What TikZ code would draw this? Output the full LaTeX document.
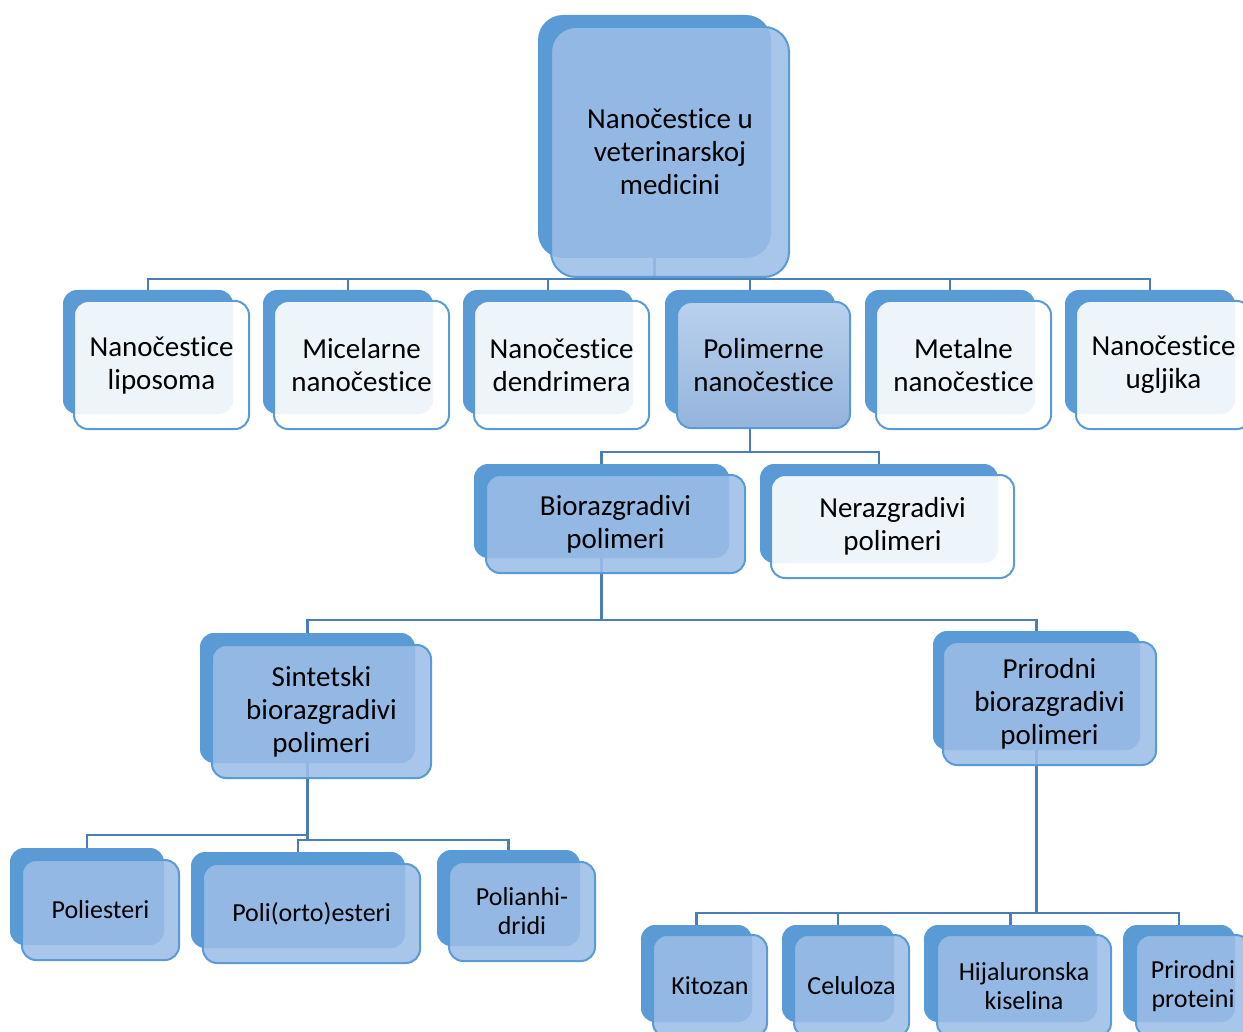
\documentclass[tikz,border=0pt]{standalone}
\usepackage{fontspec}
\setmainfont{Carlito}[Ligatures={NoCommon}]
\usepackage{tikz}

\definecolor{backblue}{HTML}{5B9BD5}
\definecolor{edgeblue}{HTML}{5B9BD5}
\definecolor{midblue}{HTML}{9CBDE7}
\definecolor{lineblue}{HTML}{4A7EBB}
\newcommand{\bigtxt}{\fontsize{29}{33}\selectfont}
\newcommand{\smalltxt}{\fontsize{26}{29}\selectfont}

\begin{document}
\begin{tikzpicture}[x=1pt,y=1pt,yscale=-1,
  backbox/.style={fill=backblue, rounded corners=14pt, inner sep=0pt, outer sep=0pt},
  litebox/.style={draw=edgeblue, line width=2pt, fill=white, fill opacity=0.9, text opacity=1,
    rounded corners=14pt, inner sep=0pt, outer sep=0pt, align=center, font=\bigtxt},
  midbox/.style={litebox, fill=midblue, fill opacity=0.88},
  gradbox/.style={litebox, top color=midblue!70!white, bottom color=midblue!95!black, fill opacity=1},
  conn/.style={draw=lineblue, line width=2.4pt}]
\useasboundingbox (0,0) rectangle (1243,1032);

%Back shapes
\node [backbox, minimum width=233, minimum height=243, rounded corners=25pt] (top) at (654.5,136.5) {};
\node [backbox, minimum width=170, minimum height=124] (lipo) at (148,352) {};
\node [backbox, minimum width=170, minimum height=124] (mice) at (348,352) {};
\node [backbox, minimum width=170, minimum height=124] (dend) at (548,352) {};
\node [backbox, minimum width=170, minimum height=124] (poli) at (750,352) {};
\node [backbox, minimum width=170, minimum height=124] (meta) at (950,352) {};
\node [backbox, minimum width=170, minimum height=124] (uglj) at (1150,352) {};
\node [backbox, minimum width=255, minimum height=94] (bio) at (601.5,511) {};
\node [backbox, minimum width=238, minimum height=99] (nera) at (879,513.5) {};
\node [backbox, minimum width=215, minimum height=130] (sint) at (307.5,698) {};
\node [backbox, minimum width=207, minimum height=119] (prir) at (1036.5,690.5) {};
\node [backbox, minimum width=154, minimum height=97] (pole) at (87,896.5) {};
\node [backbox, minimum width=214, minimum height=96] (orto) at (298,900) {};
\node [backbox, minimum width=143, minimum height=96] (anhi) at (508.5,898) {};
\node [backbox, minimum width=111, minimum height=97] (kito) at (696.5,973.5) {};
\node [backbox, minimum width=112, minimum height=97] (celu) at (838,973.5) {};
\node [backbox, minimum width=173, minimum height=97] (hija) at (1010.5,973.5) {};
\node [backbox, minimum width=112, minimum height=97] (prot) at (1179,973.5) {};

%Connectors
\coordinate (bus1) at (654.5,279);
\coordinate (bus2) at (750,452);
\coordinate (bus3) at (601.5,620);
\coordinate (bus4a) at (307.5,835);
\coordinate (bus4b) at (307.5,840);
\coordinate (bus5) at (1036.5,913);
\foreach \c in {lipo,mice,dend,poli,meta,uglj}
  \draw [conn] (top.south) -- (bus1) -| (\c.north);
\foreach \c in {bio,nera}
  \draw [conn] (poli.south) -- (bus2) -| (\c.north);
\foreach \c in {sint,prir}
  \draw [conn] (bio.south) -- (bus3) -| (\c.north);
\draw [conn] (sint.south) -- (bus4a) -| (pole.north);
\foreach \c in {orto,anhi}
  \draw [conn] (sint.south) -- (bus4b) -| (\c.north);
\foreach \c in {kito,celu,hija,prot}
  \draw [conn] (prir.south) -- (bus5) -| (\c.north);

%Front shapes with text
\node [midbox, minimum width=238, minimum height=250, rounded corners=25pt] (top-t) at (670,152) {Nanočestice u\\veterinarskoj\\medicini};
\node [litebox, minimum width=175, minimum height=128] (lipo-t) at (161.5,365) {Nanočestice\\liposoma};
\node [litebox, minimum width=175, minimum height=128] (mice-t) at (361.5,365) {Micelarne\\nanočestice};
\node [litebox, minimum width=175, minimum height=128] (dend-t) at (561.5,365) {Nanočestice\\dendrimera};
\node [gradbox, minimum width=173, minimum height=126] (poli-t) at (763.5,365) {Polimerne\\nanočestice};
\node [litebox, minimum width=175, minimum height=128] (meta-t) at (963.5,365) {Metalne\\nanočestice};
\node [litebox, minimum width=175, minimum height=128] (uglj-t) at (1163.5,365) {Nanočestice\\ugljika};
\node [midbox, minimum width=259, minimum height=98] (bio-t) at (615.5,524) {Biorazgradivi\\polimeri};
\node [litebox, minimum width=243, minimum height=103] (nera-t) at (892.5,526.5) {Nerazgradivi\\polimeri};
\node [midbox, minimum width=219, minimum height=133] (sint-t) at (321.5,711.5) {Sintetski\\biorazgradivi\\polimeri};
\node [midbox, minimum width=213, minimum height=123] (prir-t) at (1049.5,703.5) {Prirodni\\biorazgradivi\\polimeri};
\node [midbox, minimum width=157, minimum height=100, font=\smalltxt] (pole-t) at (100.5,910) {Poliesteri};
\node [midbox, minimum width=217, minimum height=99, font=\smalltxt] (orto-t) at (311.5,913.5) {Poli(orto)esteri};
\node [midbox, minimum width=146, minimum height=99, font=\smalltxt] (anhi-t) at (522,911.5) {Polianhi-\\dridi};
\node [midbox, minimum width=114, minimum height=102, font=\smalltxt] (kito-t) at (710,986) {Kitozan};
\node [midbox, minimum width=115, minimum height=102, font=\smalltxt] (celu-t) at (851.5,986) {Celuloza};
\node [midbox, minimum width=174, minimum height=102, font=\smalltxt] (hija-t) at (1024,986) {Hijaluronska\\kiselina};
\node [midbox, minimum width=114, minimum height=102, font=\smalltxt] (prot-t) at (1193,986) {Prirodni\\proteini};

\end{tikzpicture}
\end{document}
